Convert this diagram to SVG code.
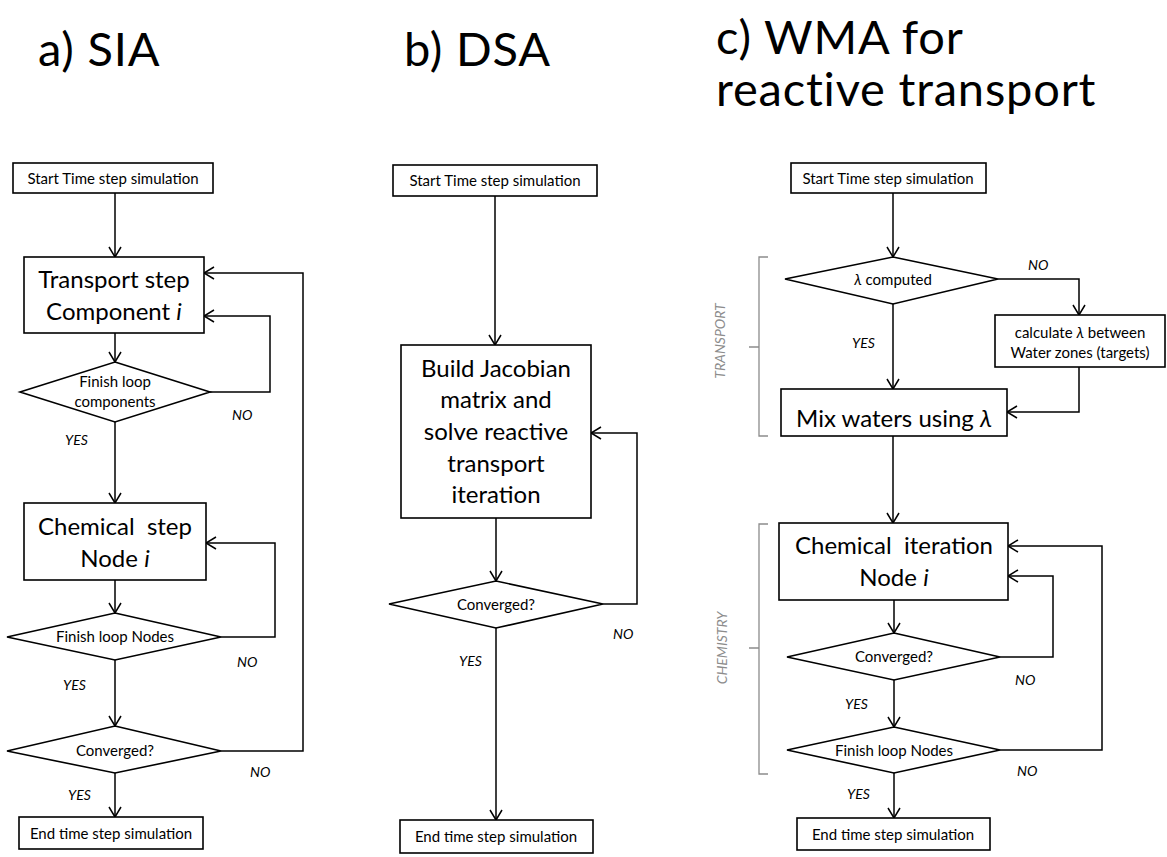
<svg xmlns="http://www.w3.org/2000/svg" width="1167" height="857" viewBox="0 0 1167 857">
<style>
  text { font-family: Lato, "Open Sans", "Liberation Sans", sans-serif; fill: #000; }
  .title { font-size: 47px; letter-spacing: 0.8px; }
  .big { font-size: 24px; text-anchor: middle; }
  .sm { font-size: 15px; text-anchor: middle; }
  .lbl { font-size: 14px; font-style: italic; }
  .side { font-size: 14px; font-style: italic; fill: #8c8c8c; text-anchor: middle; }
  .box { fill: #fff; stroke: #000; stroke-width: 1.6; }
  .conn path { fill: none; stroke: #000; stroke-width: 1.5; marker-end: url(#arr); }
  .br { fill: none; stroke: #8c8c8c; stroke-width: 1.3; }
</style>
<defs>
  <marker id="arr" viewBox="0 0 12 14" refX="11" refY="7" markerWidth="12" markerHeight="14" markerUnits="userSpaceOnUse" orient="auto">
    <path d="M1,1 L11,7 L1,13" fill="none" stroke="#000" stroke-width="1.5"/>
  </marker>
</defs>
<rect width="1167" height="857" fill="#fff"/>

<g id="titles">
  <text class="title" x="38" y="66">a) SIA</text>
  <text class="title" x="404" y="66">b) DSA</text>
  <text class="title" x="716" y="54">c) WMA for</text>
  <text class="title" x="716" y="106">reactive transport</text>
</g>

<g id="connectors" class="conn">
  <!-- a -->
  <path d="M115,193 V257"/>
  <path d="M115,333 V362"/>
  <path d="M210,392 H270 V316 H204"/>
  <path d="M115,422 V503"/>
  <path d="M115,580 V613"/>
  <path d="M221,637 H275 V543 H206"/>
  <path d="M115,660 V726"/>
  <path d="M221,751 H303 V273 H204"/>
  <path d="M115,773 V817"/>
  <!-- b -->
  <path d="M495,196 V345"/>
  <path d="M496,518 V581"/>
  <path d="M603,604 H637 V433 H591"/>
  <path d="M496,628 V820"/>
  <!-- c -->
  <path d="M893,193 V257"/>
  <path d="M998,279 H1079 V315"/>
  <path d="M1079,367 V412 H1007"/>
  <path d="M893,304 V389"/>
  <path d="M893,436 V523"/>
  <path d="M894,600 V633"/>
  <path d="M1000,657 H1053 V576 H1008"/>
  <path d="M894,680 V727"/>
  <path d="M1000,750 H1102 V546 H1008"/>
  <path d="M894,773 V818"/>
</g>

<g id="edge-labels">
  <text class="lbl" x="232" y="420">NO</text>
  <text class="lbl" x="65" y="445">YES</text>
  <text class="lbl" x="237" y="667">NO</text>
  <text class="lbl" x="63" y="690">YES</text>
  <text class="lbl" x="250" y="777">NO</text>
  <text class="lbl" x="68" y="800">YES</text>
  <text class="lbl" x="613" y="639">NO</text>
  <text class="lbl" x="459" y="666">YES</text>
  <text class="lbl" x="1028" y="270">NO</text>
  <text class="lbl" x="852" y="348">YES</text>
  <text class="lbl" x="1015" y="685">NO</text>
  <text class="lbl" x="845" y="709">YES</text>
  <text class="lbl" x="1017" y="776">NO</text>
  <text class="lbl" x="847" y="799">YES</text>
</g>

<!-- Panel a -->
<g id="a-start"><rect class="box" x="13" y="163" width="200" height="30"/><text class="sm" x="113" y="184">Start Time step simulation</text></g>
<g id="a-transport"><rect class="box" x="24" y="257" width="180" height="76"/><text class="big" x="114" y="288">Transport step</text><text class="big" x="114" y="320">Component <tspan font-style="italic">i</tspan></text></g>
<g id="a-finish-comp"><polygon class="box" points="115,362 210,392 115,422 20,392"/><text class="sm" x="115" y="387">Finish loop</text><text class="sm" x="115" y="407">components</text></g>
<g id="a-chemical"><rect class="box" x="24" y="503" width="182" height="77"/><text class="big" x="115" y="535" xml:space="preserve">Chemical  step</text><text class="big" x="115" y="567">Node <tspan font-style="italic">i</tspan></text></g>
<g id="a-finish-nodes"><polygon class="box" points="115,613 221,637 115,660 7,637"/><text class="sm" x="115" y="642">Finish loop Nodes</text></g>
<g id="a-converged"><polygon class="box" points="115,726 221,751 115,773 7,751"/><text class="sm" x="115" y="756">Converged?</text></g>
<g id="a-end"><rect class="box" x="19" y="817" width="184" height="32"/><text class="sm" x="111" y="839">End time step simulation</text></g>

<!-- Panel b -->
<g id="b-start"><rect class="box" x="393" y="165" width="204" height="31"/><text class="sm" x="495" y="186">Start Time step simulation</text></g>
<g id="b-jacobian"><rect class="box" x="401" y="345" width="190" height="173"/>
  <text class="big" x="496" y="377">Build Jacobian</text>
  <text class="big" x="496" y="408">matrix and</text>
  <text class="big" x="496" y="440">solve reactive</text>
  <text class="big" x="496" y="472">transport</text>
  <text class="big" x="496" y="503">iteration</text>
</g>
<g id="b-converged"><polygon class="box" points="496,581 603,604 496,628 389,604"/><text class="sm" x="496" y="610">Converged?</text></g>
<g id="b-end"><rect class="box" x="400" y="820" width="193" height="33"/><text class="sm" x="496" y="842">End time step simulation</text></g>

<!-- Panel c -->
<g id="c-start"><rect class="box" x="791" y="163" width="195" height="30"/><text class="sm" x="888" y="184">Start Time step simulation</text></g>
<g id="c-lambda"><polygon class="box" points="893,257 998,279 893,304 785,279"/><text class="sm" x="893" y="285"><tspan font-style="italic">λ</tspan> computed</text></g>
<g id="c-calc"><rect class="box" x="995" y="315" width="170" height="52"/><text class="sm" x="1080" y="338">calculate <tspan font-style="italic">λ</tspan> between</text><text class="sm" x="1080" y="358">Water zones (targets)</text></g>
<g id="c-mix"><rect class="box" x="781" y="389" width="226" height="47"/><text class="big" x="894" y="427">Mix waters using <tspan font-style="italic">λ</tspan></text></g>
<g id="c-chemical"><rect class="box" x="779" y="523" width="229" height="77"/><text class="big" x="894" y="554" xml:space="preserve">Chemical  iteration</text><text class="big" x="894" y="586">Node <tspan font-style="italic">i</tspan></text></g>
<g id="c-converged"><polygon class="box" points="894,633 1000,657 894,680 787,657"/><text class="sm" x="894" y="662">Converged?</text></g>
<g id="c-finish-nodes"><polygon class="box" points="894,727 1000,750 894,773 787,750"/><text class="sm" x="894" y="756">Finish loop Nodes</text></g>
<g id="c-end"><rect class="box" x="797" y="818" width="193" height="32"/><text class="sm" x="893" y="840">End time step simulation</text></g>

<g id="c-brackets">
  <path class="br" d="M768,257 H759 V436 H768 M759,347 H749"/>
  <text class="side" transform="translate(725,341) rotate(-90)">TRANSPORT</text>
  <path class="br" d="M768,524 H759 V774 H768 M759,648 H749"/>
  <text class="side" transform="translate(727,648) rotate(-90)">CHEMISTRY</text>
</g>
</svg>
